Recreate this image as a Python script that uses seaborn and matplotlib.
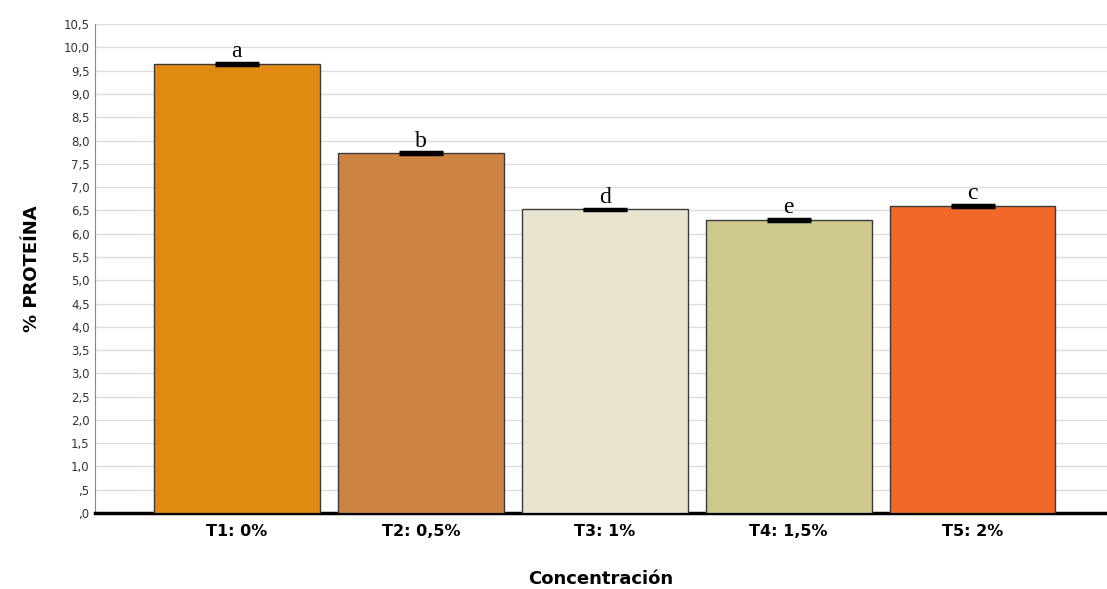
import matplotlib
matplotlib.use("Agg")
import matplotlib.pyplot as plt
import seaborn as sns
import pandas as pd
import numpy as np

# datos
tratamientos = ["T1: 0%", "T2: 0,5%", "T3: 1%", "T4: 1,5%", "T5: 2%"]
proteina = [9.65, 7.73, 6.52, 6.30, 6.60]
error = [0.02, 0.02, 0.02, 0.02, 0.02]
letras = ["a", "b", "d", "e", "c"]
colores = ["#E08A12", "#CD8442", "#E9E4CF", "#CFC88D", "#F2672A"]

df = pd.DataFrame({"tratamiento": tratamientos, "proteina": proteina})

sns.set_style("white")
fig = plt.figure(figsize=(11.07, 5.89), dpi=100)
ax = fig.add_axes([0.086, 0.129, 0.914, 0.83])

sns.barplot(data=df, x="tratamiento", y="proteina", hue="tratamiento",
            palette=colores, saturation=1, width=0.9, edgecolor="#3a3a3a",
            linewidth=1.0, errorbar=None, legend=False, ax=ax, zorder=3)

x = np.arange(len(tratamientos))
ax.errorbar(x, proteina, yerr=error, fmt="none", ecolor="black",
            capsize=16, capthick=2.5, elinewidth=1, zorder=4)
for xi, yi, l in zip(x, proteina, letras):
    ax.text(xi, yi + 0.03, l, ha="center", va="bottom", fontsize=17,
            family="Liberation Serif", color="black", zorder=5)

ax.set_ylim(0, 10.5)
ax.set_xlim(-0.77, 4.73)
yt = np.arange(0, 10.51, 0.5)
ax.set_yticks(yt)
ax.set_yticklabels([("%.1f" % v).replace(".", ",").lstrip("0") if v < 1 else ("%.1f" % v).replace(".", ",") for v in yt],
                   fontsize=8.5, color="#333333")
ax.yaxis.grid(True, color="#dcdcdc", linewidth=1.0, zorder=0)
ax.set_axisbelow(True)
ax.tick_params(axis="x", labelsize=11.5, length=0, pad=8, labelcolor="black")
for t in ax.get_xticklabels():
    t.set_fontweight("bold")
ax.tick_params(axis="y", length=0, pad=4)

ax.spines["top"].set_visible(False)
ax.spines["right"].set_visible(False)
ax.spines["left"].set_color("#888888")
ax.spines["bottom"].set_color("black")
ax.spines["bottom"].set_linewidth(2.5)

ax.set_xlabel("Concentración", fontsize=13, fontweight="bold", labelpad=22, color="black")
ax.set_ylabel("% PROTEÍNA", fontsize=13, fontweight="bold", labelpad=16, color="black")

fig.savefig("out.png", dpi=100)
